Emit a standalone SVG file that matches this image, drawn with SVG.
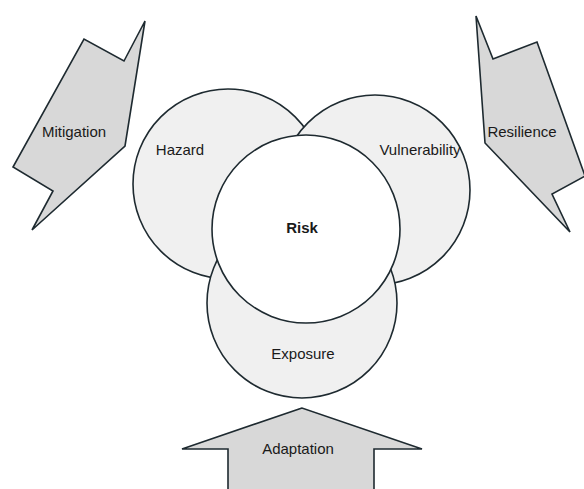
<svg xmlns="http://www.w3.org/2000/svg" width="584" height="489" viewBox="0 0 584 489">
<style>
.arrow{fill:#d8d8d8;stroke:#1e2a30;stroke-width:1.6;stroke-linejoin:miter}
.circ{fill:#f0f0f0;stroke:#1e2a30;stroke-width:1.6}
.risk{fill:#ffffff;stroke:#1e2a30;stroke-width:1.6}
text{font-family:"Liberation Sans",Arial,sans-serif;font-size:15px;fill:#1a1a1a;text-anchor:middle;dominant-baseline:central}
</style>
<rect width="584" height="489" fill="#ffffff"/>
<g id="mitigation">
<polygon class="arrow" points="145,21 124,61 84,39 13,167 53,191 32,230 125,146"/>
<text x="74" y="131">Mitigation</text>
</g>
<g id="resilience">
<polygon class="arrow" points="476,16 493,59 537,42 585,176 552,194 570,232 485,143"/>
<text x="522" y="131">Resilience</text>
</g>
<g id="adaptation">
<polygon class="arrow" points="302,408 182,449 228,449 228,495 374,495 374,449 422,449"/>
<text x="298" y="448">Adaptation</text>
</g>
<g id="hazard">
<circle class="circ" cx="228" cy="184" r="95"/>
<text x="180" y="149">Hazard</text>
</g>
<g id="vulnerability">
<circle class="circ" cx="375" cy="190" r="95"/>
<text x="420" y="149">Vulnerability</text>
</g>
<g id="exposure">
<circle class="circ" cx="302" cy="303" r="95"/>
<text x="303" y="353">Exposure</text>
</g>
<g id="risk">
<circle class="risk" cx="306" cy="229" r="94"/>
<text x="302" y="227" font-weight="bold">Risk</text>
</g>
<g id="connectors"></g>
</svg>
